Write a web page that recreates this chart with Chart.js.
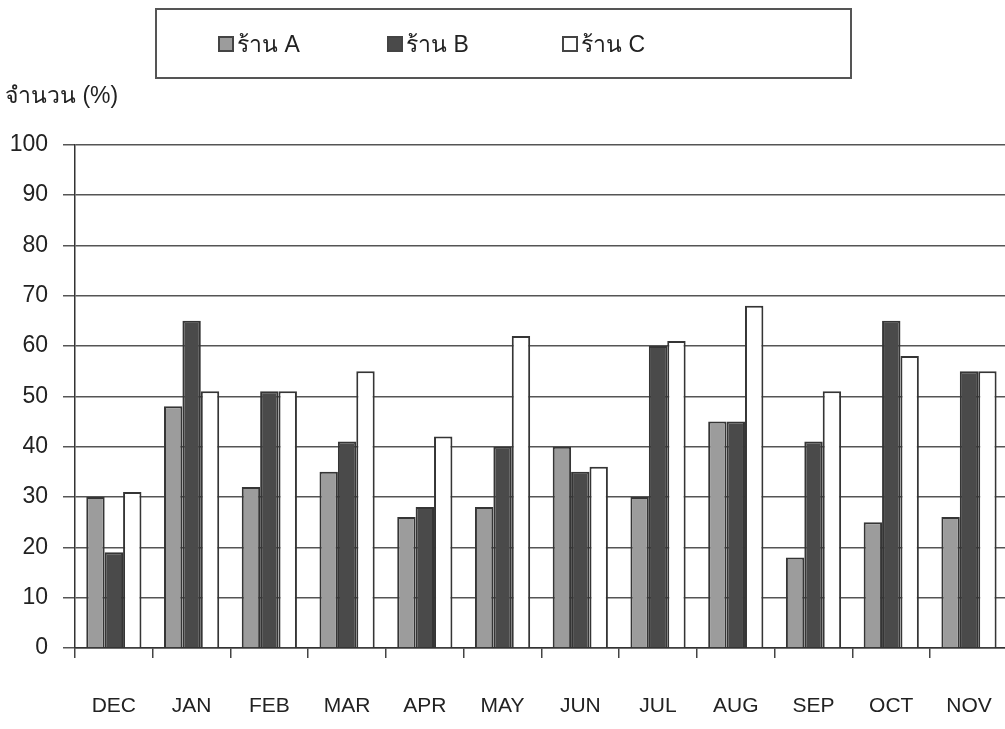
<!DOCTYPE html>
<html>
<head>
<meta charset="utf-8">
<script src="https://cdn.jsdelivr.net/npm/chart.js@4/dist/chart.umd.min.js"></script>
<style>
  html, body { margin: 0; padding: 0; background: #fff; overflow: hidden; }
  #wrap { position: relative; width: 1005px; height: 729px; overflow: hidden; }
  #box { position: absolute; left: 0; top: 0; width: 1028px; height: 729px; }
  #legend {
    position: absolute; left: 155px; top: 8px; width: 693px; height: 67px;
    border: 2px solid #555; box-sizing: content-box;
    font-family: "Liberation Sans", Arial, sans-serif; font-size: 23px; color: #222;
  }
  #legend .item { position: absolute; top: 16px; display: flex; align-items: center; }
  #legend .sw { width: 12px; height: 12px; border: 2px solid #444; margin-right: 3px; }
</style>
</head>
<body>
<div id="wrap">
  <div id="box"><canvas id="myChart" width="1028" height="729"></canvas></div>
  <div id="legend"></div>
</div>
<script>
const meses = ["DEC", "JAN", "FEB", "MAR", "APR", "MAY", "JUN", "JUL", "AUG", "SEP", "OCT", "NOV"];

const tiendaA = [30, 48, 32, 35, 26, 28, 40, 30, 45, 18, 25, 26];
const tiendaB = [19, 65, 51, 41, 28, 40, 35, 60, 45, 41, 65, 55];
const tiendaC = [31, 51, 51, 55, 42, 62, 36, 61, 68, 51, 58, 55];

const nombres = ["ร้าน A", "ร้าน B", "ร้าน C"];
const colores = ["#9c9c9c", "#4a4a4a", "#ffffff"];
const legendX = [61, 230, 405]; // item offsets inside the legend box

const fuente = "Liberation Sans, Arial, sans-serif";

const ctx = document.getElementById("myChart").getContext("2d");
const myChart = new Chart(ctx, {
    type: "bar",
    data: {
        labels: meses,
        datasets: [
            { label: nombres[0], data: tiendaA, backgroundColor: colores[0] },
            { label: nombres[1], data: tiendaB, backgroundColor: colores[1] },
            { label: nombres[2], data: tiendaC, backgroundColor: colores[2] },
        ],
    },
    options: {
        responsive: false,
        animation: false,
        layout: { padding: { top: 83, left: 5, right: 6, bottom: 0 } },
        datasets: {
            bar: {
                borderColor: "#353535",
                borderWidth: 2,
                categoryPercentage: 0.71,
                barPercentage: 1.0,
            },
        },
        plugins: {
            legend: { display: false },
            tooltip: { enabled: false },
            title: {
                display: true,
                text: "จำนวน (%)",
                align: "start",
                color: "#222",
                font: { family: fuente, size: 23, weight: "normal" },
                padding: { top: 0, bottom: 34 },
            },
        },
        scales: {
            x: {
                grid: { drawOnChartArea: false, color: "#444", lineWidth: 1.5, tickLength: 10, offset: true },
                border: { color: "#333", width: 1.5 },
                ticks: { color: "#222", padding: 36, font: { family: fuente, size: 21 } },
                afterFit: (scale) => { scale.height = 81; },
            },
            y: {
                min: 0,
                max: 100,
                ticks: { stepSize: 10, color: "#222", padding: 15, font: { family: fuente, size: 23 } },
                grid: { color: "#555", lineWidth: 1.5, tickLength: 12 },
                border: { color: "#333", width: 1.5 },
                afterFit: (scale) => { scale.width = 70; },
            },
        },
    },
});

// legend box built from the datasets
const leg = document.getElementById("legend");
myChart.data.datasets.forEach((ds, i) => {
    const item = document.createElement("div");
    item.className = "item";
    item.style.left = legendX[i] + "px";
    const sw = document.createElement("span");
    sw.className = "sw";
    sw.style.background = ds.backgroundColor;
    const txt = document.createElement("span");
    txt.textContent = ds.label;
    item.appendChild(sw);
    item.appendChild(txt);
    leg.appendChild(item);
});
</script>
</body>
</html>
